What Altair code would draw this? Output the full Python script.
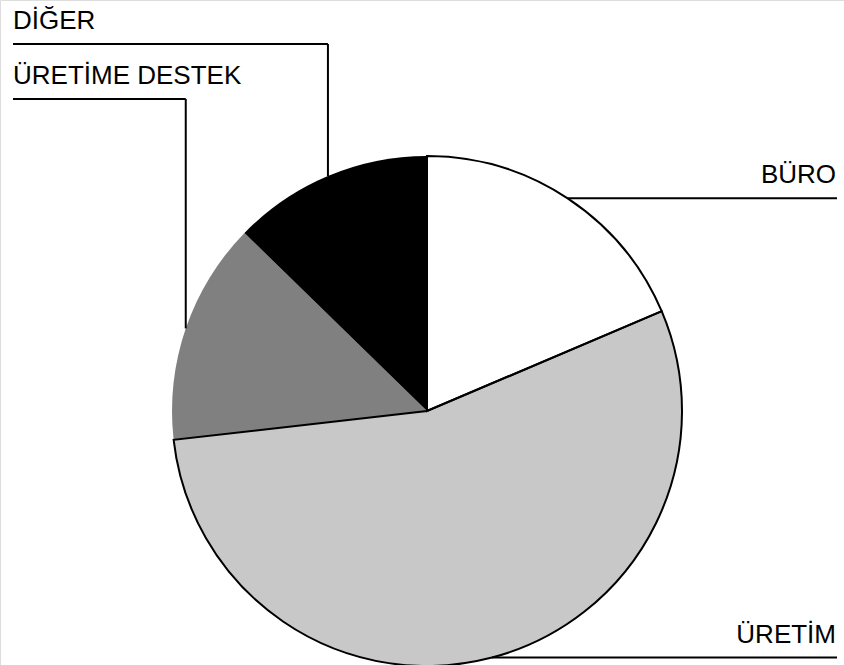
import math
import altair as alt
import pandas as pd

categories = ["BÜRO", "ÜRETİM", "ÜRETİME DESTEK", "DİĞER"]
values = [18.6, 54.6, 14.1, 12.7]
colors = ["#ffffff", "#c8c8c8", "#808080", "#000000"]
label_side = ["right", "right", "left", "left"]

W, H = 844, 665
CX, CY, R = 427, 411, 255
LEFT_X, RIGHT_X = 13, 837
LEFT_ELBOW = {"ÜRETİME DESTEK": 99, "DİĞER": 44}

df = pd.DataFrame({"cat": categories, "value": values, "order": range(len(categories))})

# leader-line geometry derived from the slice mid-angles
total = sum(values)
rules, texts = [], []
cum = 0.0
for cat, v, side in zip(categories, values, label_side):
    mid = (cum + v / 2) / total * 2 * math.pi
    cum += v
    px = CX + R * math.sin(mid)
    py = CY - R * math.cos(mid)
    if side == "right":
        rules.append({"x": px, "y": py, "x2": RIGHT_X, "y2": py})
        texts.append({"x": RIGHT_X - 1, "y": py - 15, "t": cat, "a": "right"})
    else:
        ey = LEFT_ELBOW[cat]
        rules.append({"x": px, "y": py, "x2": px, "y2": ey})
        rules.append({"x": px, "y": ey, "x2": LEFT_X, "y2": ey})
        texts.append({"x": LEFT_X, "y": ey - 15, "t": cat, "a": "left"})

rules_df = pd.DataFrame(rules)
right_txt = pd.DataFrame([t for t in texts if t["a"] == "right"])
left_txt = pd.DataFrame([t for t in texts if t["a"] == "left"])

xs = alt.Scale(domain=[0, W], range=[0, W], nice=False, zero=False)
ys = alt.Scale(domain=[0, H], range=[0, H], nice=False, zero=False)

color_scale = alt.Scale(domain=categories, range=colors)

pie = alt.Chart(df).mark_arc(outerRadius=R, stroke=None).encode(
    theta=alt.Theta("value:Q", stack=True),
    order=alt.Order("order:Q"),
    color=alt.Color("cat:N", scale=color_scale, legend=None, sort=categories),
    x=alt.value(CX),
    y=alt.value(CY),
)

outline = alt.Chart(df).mark_arc(outerRadius=R, fillOpacity=0, stroke="black", strokeWidth=2).encode(
    theta=alt.Theta("value:Q", stack=True),
    order=alt.Order("order:Q"),
    strokeOpacity=alt.condition("datum.cat == 'BÜRO' || datum.cat == 'ÜRETİM'", alt.value(1), alt.value(0)),
    x=alt.value(CX),
    y=alt.value(CY),
)

leaders = alt.Chart(rules_df).mark_rule(color="black", strokeWidth=2).encode(
    x=alt.X("x:Q", scale=xs, axis=None),
    y=alt.Y("y:Q", scale=ys, axis=None),
    x2="x2:Q",
    y2="y2:Q",
)

font = "Liberation Sans"
FS = 26
rtext = alt.Chart(right_txt).mark_text(align="right", baseline="alphabetic", font=font, fontSize=FS, color="black").encode(
    x=alt.X("x:Q", scale=xs, axis=None),
    y=alt.Y("y:Q", scale=ys, axis=None),
    text="t:N",
)
ltext = alt.Chart(left_txt).mark_text(align="left", baseline="alphabetic", font=font, fontSize=FS, color="black").encode(
    x=alt.X("x:Q", scale=xs, axis=None),
    y=alt.Y("y:Q", scale=ys, axis=None),
    text="t:N",
)

chart = alt.layer(pie, outline, leaders, rtext, ltext).properties(
    width=W, height=H, padding=0, autosize=alt.AutoSizeParams(type="none")
).configure_view(stroke=None).configure(background="white")

chart.save("out.html", embed_options={"renderer": "svg", "actions": False})
